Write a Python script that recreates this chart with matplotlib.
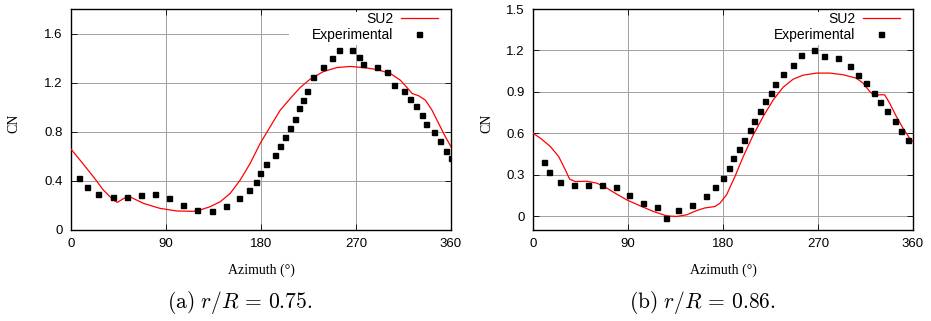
import matplotlib
matplotlib.use("Agg")
import matplotlib.pyplot as plt
from matplotlib.patches import Rectangle

plt.rcParams["font.family"] = ["Liberation Sans", "DejaVu Sans"]
plt.rcParams["mathtext.fontset"] = "cm"

# r/R = 0.75
exp_a_az = [7.9, 15.5, 25.9, 40.1, 53.4, 66.7, 80.0, 93.2, 106.5, 119.8, 134.0, 146.4,
            158.7, 168.2, 174.8, 179.5, 185.2, 192.8, 197.6, 202.3, 207.7, 211.8, 215.6,
            219.4, 223.2, 228.9, 238.3, 246.9, 253.5, 265.8, 272.5, 276.3, 289.5, 299.0,
            305.7, 315.2, 320.8, 326.5, 332.2, 336.0, 343.6, 349.3, 355.0, 359.7]
exp_a_cn = [0.42, 0.347, 0.29, 0.271, 0.266, 0.282, 0.29, 0.258, 0.20, 0.16, 0.152, 0.193,
            0.258, 0.323, 0.388, 0.461, 0.534, 0.607, 0.681, 0.754, 0.827, 0.90, 0.99,
            1.055, 1.136, 1.25, 1.33, 1.397, 1.47, 1.47, 1.413, 1.348, 1.33, 1.283,
            1.185, 1.136, 1.071, 1.006, 0.933, 0.86, 0.795, 0.721, 0.64, 0.583]
su2_a_az = [0, 8.5, 21.2, 30.7, 40.1, 43.9, 49.6, 54.4, 60.7, 68.6, 84.4, 100.2, 116.0,
            122.3, 131.8, 141.3, 150.8, 160.3, 169.7, 179.2, 188.7, 198.2, 207.7, 217.2,
            226.6, 239.3, 251.9, 264.6, 277.2, 289.9, 302.5, 312.0, 318.3, 323.1, 329.4,
            335.7, 342.0, 348.3, 354.7, 360.0]
su2_a_cn = [0.659, 0.57, 0.434, 0.325, 0.244, 0.225, 0.255, 0.277, 0.25, 0.217, 0.176,
            0.155, 0.152, 0.163, 0.19, 0.23, 0.298, 0.407, 0.542, 0.705, 0.841, 0.976,
            1.071, 1.161, 1.229, 1.291, 1.323, 1.332, 1.323, 1.307, 1.275, 1.22, 1.161,
            1.112, 1.093, 1.058, 0.976, 0.868, 0.759, 0.678]

# r/R = 0.86
exp_b_az = [10.1, 14.8, 25.2, 38.5, 51.7, 64.9, 78.2, 91.4, 104.6, 117.9, 126.4, 137.7,
            151.0, 164.2, 172.7, 180.3, 186.0, 189.8, 195.4, 200.2, 205.8, 209.6, 215.3,
            220.0, 225.7, 229.5, 237.0, 246.5, 254.1, 266.3, 275.8, 289.0, 300.4, 308.0,
            315.5, 323.1, 328.8, 335.4, 343.0, 348.6, 355.2]
exp_b_cn = [0.391, 0.319, 0.246, 0.225, 0.225, 0.225, 0.21, 0.152, 0.094, 0.065, -0.014,
            0.043, 0.08, 0.145, 0.21, 0.275, 0.348, 0.42, 0.485, 0.55, 0.623, 0.688, 0.76,
            0.833, 0.891, 0.956, 1.028, 1.094, 1.166, 1.202, 1.159, 1.144, 1.086, 1.021,
            0.963, 0.891, 0.826, 0.76, 0.688, 0.616, 0.55]
su2_b_az = [0, 6.9, 16.4, 24.3, 30.6, 34.7, 40.0, 51.1, 60.5, 70.0, 79.4, 88.9, 101.5,
            114.1, 126.7, 136.2, 145.6, 155.1, 163.0, 172.4, 177.1, 183.4, 191.3, 199.2,
            208.7, 218.1, 227.6, 237.0, 246.5, 255.9, 268.6, 281.2, 293.8, 306.4, 312.7,
            319.0, 323.7, 328.4, 333.2, 337.9, 344.2, 350.5, 356.8, 360]
su2_b_cn = [0.601, 0.565, 0.505, 0.432, 0.336, 0.268, 0.251, 0.253, 0.239, 0.203, 0.159,
            0.118, 0.075, 0.034, 0.002, -0.002, 0.01, 0.041, 0.06, 0.07, 0.094, 0.155,
            0.287, 0.432, 0.589, 0.722, 0.842, 0.934, 0.992, 1.021, 1.036, 1.036, 1.024,
            0.999, 0.963, 0.903, 0.871, 0.879, 0.879, 0.818, 0.722, 0.637, 0.565, 0.541]

xticks = [0, 90, 180, 270, 360]
yticks_a = [0, 0.4, 0.8, 1.2, 1.6]
ytick_labels_a = ["0", "0.4", "0.8", "1.2", "1.6"]
yticks_b = [0, 0.3, 0.6, 0.9, 1.2, 1.5]
ytick_labels_b = ["0", "0.3", "0.6", "0.9", "1.2", "1.5"]
captions = [r"$\mathrm{(a)}\ r/R\,=\,0.75.$", r"$\mathrm{(b)}\ r/R\,=\,0.86.$"]

W, H = 931, 321
fig = plt.figure(figsize=(W / 100, H / 100), dpi=100)
fig.patch.set_facecolor("white")

panels = [
    dict(left=71, right=451, ylim=(0, 1.8), yticks=yticks_a, ylabels=ytick_labels_a,
         exp=(exp_a_az, exp_a_cn), su2=(su2_a_az, su2_a_cn), ylab_x=-0.134,
         box_left=289, cap_x=240),
    dict(left=533, right=913, ylim=(-0.1, 1.5), yticks=yticks_b, ylabels=ytick_labels_b,
         exp=(exp_b_az, exp_b_cn), su2=(su2_b_az, su2_b_cn), ylab_x=-0.105,
         box_left=752, cap_x=702),
]
top, bottom = 9, 230

for i, p in enumerate(panels):
    ax = fig.add_axes([p["left"] / W, 1 - bottom / H,
                       (p["right"] - p["left"]) / W, (bottom - top) / H])
    ax.set_xlim(0, 360)
    ax.set_ylim(*p["ylim"])
    ax.set_xticks(xticks)
    ax.set_yticks(p["yticks"])
    ax.set_yticklabels(p["ylabels"])
    ax.grid(True, color="#a0a0a0", lw=0.7)
    ax.set_axisbelow(True)
    ax.tick_params(direction="in", length=4, width=0.6, labelsize=9.5,
                   top=True, right=True, pad=6, colors="black")
    for s in ax.spines.values():
        s.set_linewidth(1.0)

    # white key box hiding the grid
    bw = (p["right"] - p["box_left"]) / (p["right"] - p["left"])
    ax.add_patch(Rectangle((1 - bw, 1 - 36 / 221), bw, 36 / 221 - 0.012,
                           transform=ax.transAxes, facecolor="white",
                           edgecolor="none", zorder=1))

    ax.plot(p["su2"][0], p["su2"][1], color="red", lw=0.9, label="SU2", zorder=3)
    ax.plot(p["exp"][0], p["exp"][1], "s", color="black", ms=3.6, lw=0,
            label="Experimental", zorder=4)

    ax.legend(loc="upper right", bbox_to_anchor=(1 - 9 / 380, 1 + 1 / 221),
              borderaxespad=0, frameon=False, markerfirst=False, fontsize=10,
              handlelength=2.65, handletextpad=0.55, labelspacing=0.15, borderpad=0.3)

    ax.set_ylabel("CN", fontsize=10, family=["Liberation Serif"])
    ax.yaxis.set_label_coords(p["ylab_x"], 0.484)
    ax.set_xlabel("Azimuth (°)", fontsize=10, family=["Liberation Serif"])
    ax.xaxis.set_label_coords(0.50, -0.152)

    fig.text(p["cap_x"] / W, 1 - 303 / H, captions[i], fontsize=15.5,
             ha="center", va="center")

fig.savefig("out.png", dpi=100, facecolor="white")
